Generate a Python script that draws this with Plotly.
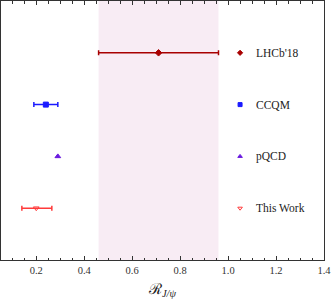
import plotly.graph_objects as go

labels = ["LHCb'18", "CCQM", "pQCD", "This Work"]
rows = [4, 3, 2, 1]
values = [0.71, 0.24, 0.29, 0.20]
err_plus = [0.25, 0.05, 0.0, 0.065]
err_minus = [0.25, 0.05, 0.0, 0.06]
colors = ["#a80000", "#1a1aff", "#6a1adf", "#ff3a3a"]
symbols = ["diamond", "square", "triangle-up", "triangle-down-open"]
band_lo, band_hi = 0.46, 0.96
legend_x = 1.05
legend_text_x = 1.11

fig = go.Figure()
fig.add_shape(type="rect", xref="x", yref="paper", x0=band_lo, x1=band_hi, y0=0, y1=1,
              fillcolor="#f8ecf4", line_width=0, layer="below")

for lab, r, v, ep, em, c, s in zip(labels, rows, values, err_plus, err_minus, colors, symbols):
    fig.add_trace(go.Scatter(
        x=[v], y=[r], mode="markers",
        marker=dict(symbol=s, size=5, color=c, line=dict(color=c, width=1)),
        error_x=dict(type="data", symmetric=False, array=[ep], arrayminus=[em],
                     color=c, thickness=1.5, width=2.5, visible=ep > 0),
        showlegend=False))
    fig.add_trace(go.Scatter(
        x=[legend_x], y=[r], mode="markers",
        marker=dict(symbol=s, size=4, color=c, line=dict(color=c, width=1)),
        showlegend=False))
    fig.add_annotation(x=legend_text_x, y=r, text=lab, showarrow=False, xanchor="left",
                       yanchor="middle", font=dict(family="Liberation Serif", size=11.5, color="#222"))

fig.update_layout(
    width=332, height=302,
    margin=dict(l=1, r=8, t=1, b=42, autoexpand=False),
    plot_bgcolor="white", paper_bgcolor="white",
    font=dict(family="Liberation Serif", size=10.5, color="#333"),
    xaxis=dict(range=[0.053, 1.4], tickvals=[0.2, 0.4, 0.6, 0.8, 1.0, 1.2, 1.4],
               ticktext=["0.2", "0.4", "0.6", "0.8", "1.0", "1.2", "1.4"],
               ticks="inside", ticklen=4, tickcolor="#333", mirror="ticks",
               showline=True, linecolor="#333", linewidth=1, showgrid=False, zeroline=False,
               automargin=False,
               minor=dict(dtick=0.05, tick0=0, ticks="inside", ticklen=2.5, tickcolor="#333"),
               title=dict(text="ℛ<sub><i>J/ψ</i></sub>", standoff=8,
                          font=dict(family="Liberation Serif", size=15, color="#222"))),
    yaxis=dict(range=[0, 5], showticklabels=False, ticks="", showgrid=False, zeroline=False,
               showline=True, linecolor="#333", linewidth=1, mirror=True, automargin=False),
)

fig.write_html("out.html", config={"displayModeBar": False},
               post_script="document.body.style.margin='0';")
